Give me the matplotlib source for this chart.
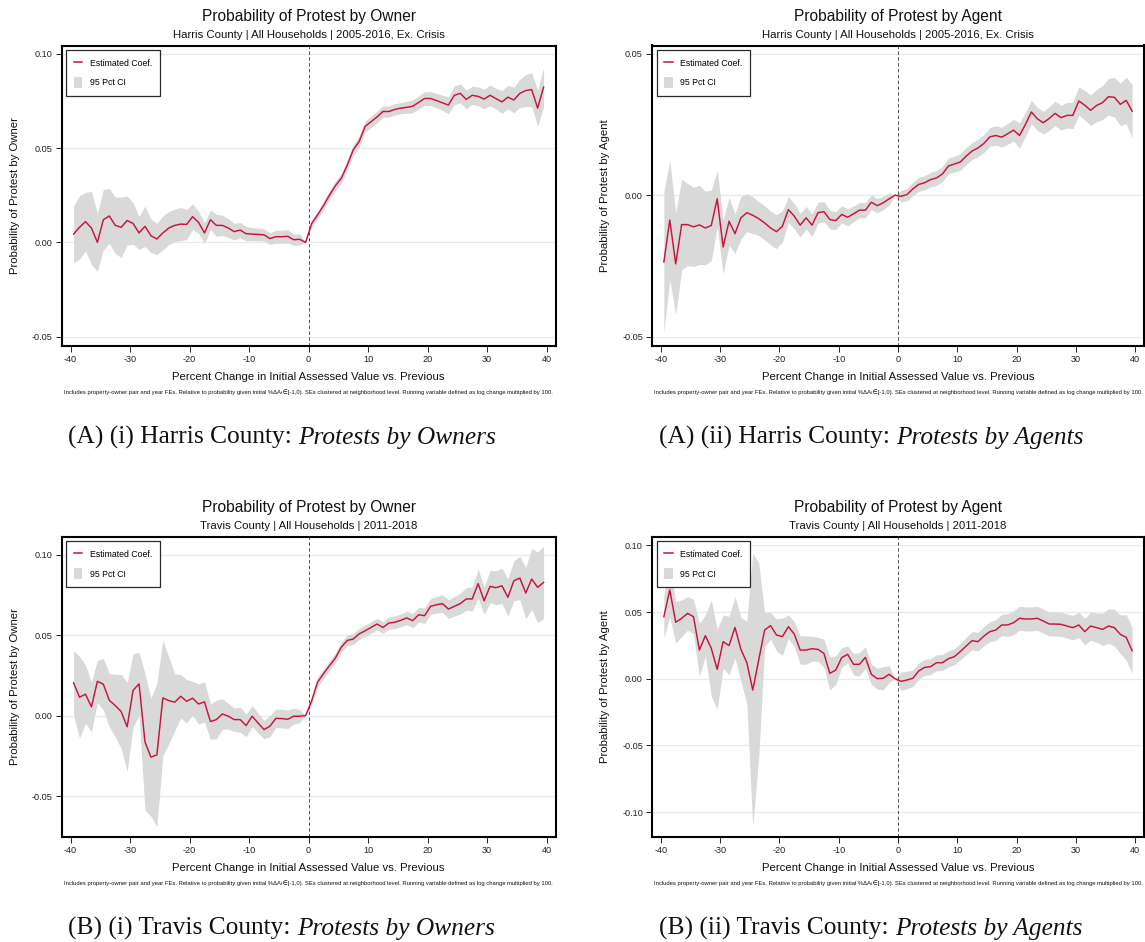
import numpy as np
import matplotlib
matplotlib.use("Agg")
import matplotlib.pyplot as plt
from matplotlib.lines import Line2D
from matplotlib.patches import Patch

# ---------------------------------------------------------------- data
# bin midpoints of the running variable (percent change, 1-point bins)
x_bins = np.arange(-39.5, 40.0, 1.0)

harris_owner_coef = [
    0.0044, 0.0080, 0.0110, 0.0076, 0.0000, 0.0120, 0.0140, 0.0090, 0.0080, 0.0116,
    0.0100, 0.0050, 0.0085, 0.0035, 0.0018, 0.0050, 0.0076, 0.0090, 0.0097, 0.0095,
    0.0136, 0.0106, 0.0050, 0.0120, 0.0090, 0.0090, 0.0076, 0.0057, 0.0065, 0.0046,
    0.0044, 0.0042, 0.0040, 0.0020, 0.0030, 0.0030, 0.0032, 0.0014, 0.0016, 0.0000,
    0.0099, 0.0145, 0.0195, 0.0250, 0.0300, 0.0340, 0.0410, 0.0490, 0.0535, 0.0615,
    0.0640, 0.0665, 0.0694, 0.0694, 0.0705, 0.0712, 0.0716, 0.0722, 0.0742, 0.0763,
    0.0763, 0.0752, 0.0740, 0.0728, 0.0780, 0.0790, 0.0758, 0.0780, 0.0774, 0.0760,
    0.0780, 0.0762, 0.0745, 0.0770, 0.0755, 0.0790, 0.0805, 0.0810, 0.0712, 0.0823,
]
harris_owner_ci = [
    0.0150, 0.0168, 0.0155, 0.0194, 0.0153, 0.0160, 0.0145, 0.0150, 0.0160, 0.0130,
    0.0110, 0.0087, 0.0107, 0.0089, 0.0083, 0.0090, 0.0088, 0.0086, 0.0088, 0.0080,
    0.0068, 0.0058, 0.0055, 0.0052, 0.0058, 0.0054, 0.0050, 0.0044, 0.0041, 0.0038,
    0.0035, 0.0033, 0.0033, 0.0030, 0.0034, 0.0035, 0.0035, 0.0030, 0.0029, 0.0000,
    0.0020, 0.0020, 0.0022, 0.0024, 0.0025, 0.0026, 0.0027, 0.0028, 0.0030, 0.0030,
    0.0030, 0.0030, 0.0030, 0.0030, 0.0030, 0.0030, 0.0032, 0.0034, 0.0035, 0.0036,
    0.0037, 0.0038, 0.0040, 0.0045, 0.0050, 0.0050, 0.0050, 0.0048, 0.0050, 0.0052,
    0.0055, 0.0055, 0.0060, 0.0062, 0.0068, 0.0075, 0.0085, 0.0090, 0.0095, 0.0105,
]

harris_agent_coef = [
    -0.0236, -0.0088, -0.0243, -0.0104, -0.0104, -0.0112, -0.0105, -0.0116, -0.0107, -0.0013,
    -0.0183, -0.0092, -0.0136, -0.0080, -0.0062, -0.0071, -0.0083, -0.0098, -0.0116, -0.0129,
    -0.0110, -0.0051, -0.0074, -0.0106, -0.0080, -0.0106, -0.0062, -0.0058, -0.0086, -0.0090,
    -0.0068, -0.0078, -0.0066, -0.0053, -0.0053, -0.0025, -0.0037, -0.0027, -0.0013, 0.0000,
    -0.0004, 0.0002, 0.0022, 0.0038, 0.0044, 0.0055, 0.0061, 0.0075, 0.0103, 0.0110,
    0.0117, 0.0138, 0.0156, 0.0167, 0.0183, 0.0206, 0.0211, 0.0205, 0.0217, 0.0230,
    0.0211, 0.0250, 0.0294, 0.0270, 0.0256, 0.0271, 0.0289, 0.0274, 0.0282, 0.0282,
    0.0333, 0.0318, 0.0300, 0.0317, 0.0327, 0.0348, 0.0346, 0.0321, 0.0335, 0.0297,
]
harris_agent_ci = [
    0.0250, 0.0210, 0.0180, 0.0160, 0.0145, 0.0140, 0.0140, 0.0130, 0.0125, 0.0100,
    0.0095, 0.0085, 0.0070, 0.0075, 0.0067, 0.0065, 0.0060, 0.0060, 0.0060, 0.0060,
    0.0055, 0.0045, 0.0045, 0.0042, 0.0040, 0.0040, 0.0037, 0.0035, 0.0033, 0.0032,
    0.0030, 0.0030, 0.0028, 0.0027, 0.0027, 0.0026, 0.0025, 0.0024, 0.0022, 0.0000,
    0.0020, 0.0022, 0.0024, 0.0025, 0.0025, 0.0026, 0.0026, 0.0027, 0.0028, 0.0028,
    0.0029, 0.0030, 0.0030, 0.0031, 0.0032, 0.0033, 0.0034, 0.0035, 0.0037, 0.0038,
    0.0045, 0.0042, 0.0042, 0.0040, 0.0040, 0.0042, 0.0043, 0.0044, 0.0045, 0.0047,
    0.0050, 0.0052, 0.0054, 0.0057, 0.0060, 0.0065, 0.0070, 0.0075, 0.0082, 0.0095,
]

travis_owner_coef = [
    0.0203, 0.0114, 0.0133, 0.0054, 0.0213, 0.0195, 0.0095, 0.0062, 0.0025, -0.0070,
    0.0157, 0.0197, -0.0164, -0.0259, -0.0244, 0.0110, 0.0093, 0.0083, 0.0120, 0.0089,
    0.0108, 0.0072, 0.0085, -0.0037, -0.0025, 0.0010, -0.0004, -0.0025, -0.0025, -0.0062,
    -0.0004, -0.0046, -0.0087, -0.0066, -0.0017, -0.0019, -0.0023, -0.0004, -0.0004, 0.0000,
    0.0090, 0.0207, 0.0260, 0.0310, 0.0357, 0.0426, 0.0467, 0.0476, 0.0508, 0.0527,
    0.0548, 0.0569, 0.0548, 0.0575, 0.0580, 0.0592, 0.0607, 0.0590, 0.0627, 0.0621,
    0.0679, 0.0689, 0.0696, 0.0662, 0.0679, 0.0696, 0.0725, 0.0725, 0.0820, 0.0714,
    0.0803, 0.0795, 0.0807, 0.0735, 0.0838, 0.0855, 0.0762, 0.0849, 0.0797, 0.0828,
]
travis_owner_ci = [
    0.0200, 0.0255, 0.0180, 0.0155, 0.0130, 0.0160, 0.0165, 0.0195, 0.0230, 0.0275,
    0.0227, 0.0195, 0.0424, 0.0367, 0.0445, 0.0360, 0.0270, 0.0176, 0.0135, 0.0135,
    0.0105, 0.0125, 0.0125, 0.0110, 0.0120, 0.0095, 0.0080, 0.0073, 0.0078, 0.0070,
    0.0065, 0.0062, 0.0057, 0.0066, 0.0057, 0.0058, 0.0057, 0.0050, 0.0040, 0.0000,
    0.0025, 0.0030, 0.0030, 0.0030, 0.0030, 0.0032, 0.0033, 0.0034, 0.0035, 0.0035,
    0.0036, 0.0036, 0.0037, 0.0038, 0.0040, 0.0040, 0.0042, 0.0044, 0.0046, 0.0048,
    0.0050, 0.0052, 0.0055, 0.0058, 0.0060, 0.0065, 0.0070, 0.0075, 0.0090, 0.0085,
    0.0100, 0.0105, 0.0110, 0.0115, 0.0125, 0.0135, 0.0160, 0.0190, 0.0220, 0.0225,
]

travis_agent_coef = [
    0.0465, 0.0665, 0.0423, 0.0453, 0.0490, 0.0465, 0.0215, 0.0323, 0.0228, 0.0070,
    0.0278, 0.0248, 0.0385, 0.0220, 0.0120, -0.0085, 0.0140, 0.0365, 0.0398, 0.0328,
    0.0315, 0.0390, 0.0335, 0.0215, 0.0215, 0.0225, 0.0220, 0.0190, 0.0040, 0.0065,
    0.0158, 0.0183, 0.0108, 0.0108, 0.0160, 0.0033, 0.0000, 0.0003, 0.0033, 0.0000,
    -0.0020, -0.0010, 0.0003, 0.0058, 0.0085, 0.0090, 0.0120, 0.0120, 0.0150, 0.0165,
    0.0203, 0.0245, 0.0285, 0.0278, 0.0320, 0.0353, 0.0365, 0.0403, 0.0403, 0.0420,
    0.0453, 0.0448, 0.0448, 0.0453, 0.0433, 0.0410, 0.0410, 0.0408, 0.0395, 0.0383,
    0.0403, 0.0353, 0.0395, 0.0383, 0.0370, 0.0395, 0.0383, 0.0333, 0.0310, 0.0210,
]
travis_agent_ci = [
    0.0160, 0.0200, 0.0157, 0.0137, 0.0125, 0.0130, 0.0200, 0.0155, 0.0360, 0.0300,
    0.0200, 0.0220, 0.0230, 0.0240, 0.0310, 0.1025, 0.0730, 0.0130, 0.0100, 0.0120,
    0.0140, 0.0088, 0.0094, 0.0106, 0.0106, 0.0094, 0.0090, 0.0106, 0.0125, 0.0106,
    0.0075, 0.0063, 0.0081, 0.0088, 0.0081, 0.0075, 0.0078, 0.0088, 0.0063, 0.0000,
    0.0070, 0.0065, 0.0062, 0.0060, 0.0060, 0.0060, 0.0060, 0.0060, 0.0060, 0.0060,
    0.0062, 0.0065, 0.0068, 0.0070, 0.0072, 0.0075, 0.0078, 0.0080, 0.0085, 0.0090,
    0.0090, 0.0090, 0.0090, 0.0090, 0.0090, 0.0090, 0.0090, 0.0090, 0.0090, 0.0092,
    0.0095, 0.0100, 0.0105, 0.0110, 0.0120, 0.0130, 0.0137, 0.0145, 0.0170, 0.0175,
]

x_ticks = [-40, -30, -20, -10, 0, 10, 20, 30, 40]
x_label = "Percent Change in Initial Assessed Value vs. Previous"
footnote = ("Includes property-owner pair and year FEs. Relative to probability given "
            "initial %\u0394A\u209c\u2208[-1,0). SEs clustered at neighborhood level. "
            "Running variable defined as log change multiplied by 100.")
legend_labels = ["Estimated Coef.", "95 Pct CI"]

panels = [
    dict(coef=harris_owner_coef, ci=harris_owner_ci,
         title="Probability of Protest by Owner",
         subtitle="Harris County | All Households | 2005-2016, Ex. Crisis",
         ylabel="Probability of Protest by Owner",
         yticks=[-0.05, 0.00, 0.05, 0.10], ylim=(-0.0548, 0.1044),
         cap=("(A) (i) Harris County:", "Protests by Owners"),
         box=(61.7, 45.5, 555.5, 345.7)),
    dict(coef=harris_agent_coef, ci=harris_agent_ci,
         title="Probability of Protest by Agent",
         subtitle="Harris County | All Households | 2005-2016, Ex. Crisis",
         ylabel="Probability of Protest by Agent",
         yticks=[-0.05, 0.00, 0.05], ylim=(-0.0532, 0.0529),
         cap=("(A) (ii) Harris County:", "Protests by Agents"),
         box=(652, 45.5, 1144, 345.7)),
    dict(coef=travis_owner_coef, ci=travis_owner_ci,
         title="Probability of Protest by Owner",
         subtitle="Travis County | All Households | 2011-2018",
         ylabel="Probability of Protest by Owner",
         yticks=[-0.05, 0.00, 0.05, 0.10], ylim=(-0.0753, 0.1112),
         cap=("(B) (i) Travis County:", "Protests by Owners"),
         box=(61.7, 536.7, 555.5, 836.7)),
    dict(coef=travis_agent_coef, ci=travis_agent_ci,
         title="Probability of Protest by Agent",
         subtitle="Travis County | All Households | 2011-2018",
         ylabel="Probability of Protest by Agent",
         yticks=[-0.10, -0.05, 0.00, 0.05, 0.10], ylim=(-0.1185, 0.1065),
         cap=("(B) (ii) Travis County:", "Protests by Agents"),
         box=(652, 536.7, 1144, 836.7)),
]

# ---------------------------------------------------------------- style
W, H = 1145, 942
SANS = ["Liberation Sans", "DejaVu Sans"]
SERIF = ["Liberation Serif", "DejaVu Serif"]
RED = "#c8143c"
BAND = "#d9d9d9"
GRID = "#e3edf1"
INK = "#111111"

plt.rcParams["axes.unicode_minus"] = False
plt.rcParams["font.family"] = SANS

fig = plt.figure(figsize=(W / 100, H / 100), dpi=100)
fig.patch.set_facecolor("white")


def fx(px):
    return px / W


def fy(py):
    return 1 - py / H


captions = []
for p in panels:
    l, t, r, b = p["box"]
    ax = fig.add_axes([fx(l), fy(b), (r - l) / W, (b - t) / H])
    coef = np.asarray(p["coef"])
    ci = np.asarray(p["ci"])
    ax.fill_between(x_bins, coef - ci, coef + ci, color=BAND, lw=0, zorder=1)
    ax.plot(x_bins, coef, color=RED, lw=1.05, zorder=3)
    ax.axvline(0, color="#505050", lw=0.7, ls=(0, (3.5, 2.5)), zorder=2)

    ax.set_xlim(-41.5, 41.5)
    ax.set_ylim(*p["ylim"])
    ax.set_xticks(x_ticks)
    ax.set_xticklabels([str(v) for v in x_ticks])
    ax.set_yticks(p["yticks"])
    ax.set_yticklabels([f"{v:.2f}" for v in p["yticks"]])
    ax.grid(axis="y", color=GRID, lw=1.0)
    ax.grid(axis="x", visible=False)
    ax.set_axisbelow(True)
    ax.tick_params(axis="both", direction="out", length=4.5, width=0.7,
                   labelsize=6.6, colors="#222222", pad=2)
    for s in ax.spines.values():
        s.set_linewidth(1.5)
        s.set_color("black")
        s.set_zorder(5)

    handles = [Line2D([], [], color=RED, lw=1.1),
               Patch(facecolor=BAND, edgecolor="none")]
    leg = ax.legend(handles, legend_labels, loc="upper left",
                    bbox_to_anchor=(fx(l + 4.5), fy(t + 4.5)),
                    bbox_transform=fig.transFigure, borderaxespad=0,
                    fontsize=6.3, handlelength=1.0, handleheight=1.6,
                    labelspacing=0.95, handletextpad=0.85, borderpad=0.85,
                    frameon=True, fancybox=False, framealpha=1,
                    edgecolor="#2a2a2a", facecolor="white")
    leg.get_frame().set_linewidth(0.9)
    leg.set_zorder(6)

    cx = (l + r) / 2
    fig.text(fx(cx), fy(t - 29.2), p["title"], ha="center", va="center",
             fontsize=11.2, color=INK)
    fig.text(fx(cx), fy(t - 10.5), p["subtitle"], ha="center", va="center",
             fontsize=8.2, color=INK)
    fig.text(fx(l - 46.5), fy((t + b) / 2), p["ylabel"], ha="center", va="center",
             rotation=90, fontsize=8.2, color=INK)
    fig.text(fx(cx), fy(b + 31.6), x_label, ha="center", va="center",
             fontsize=8.2, color=INK)
    fig.text(fx(cx), fy(b + 46.6), footnote, ha="center", va="center",
             fontsize=4.2, color=INK)
    captions.append((cx - 27, b + 98, p["cap"]))

# captions below each panel: upright lead-in followed by an italic phrase
renderer = fig.canvas.get_renderer()
for cx, by, (plain, ital) in captions:
    t1 = fig.text(0, fy(by), plain, fontsize=18.3, family=SERIF,
                  va="baseline", ha="left", color=INK)
    t2 = fig.text(0, fy(by), ital, fontsize=18.3, family=SERIF, style="italic",
                  va="baseline", ha="left", color=INK)
    w1 = t1.get_window_extent(renderer).width
    w2 = t2.get_window_extent(renderer).width
    gap = 18.3 * 0.25 * 100 / 72
    x0 = cx - (w1 + gap + w2) / 2
    t1.set_x(fx(x0))
    t2.set_x(fx(x0 + w1 + gap))

fig.savefig("out.png", dpi=100, facecolor="white")
